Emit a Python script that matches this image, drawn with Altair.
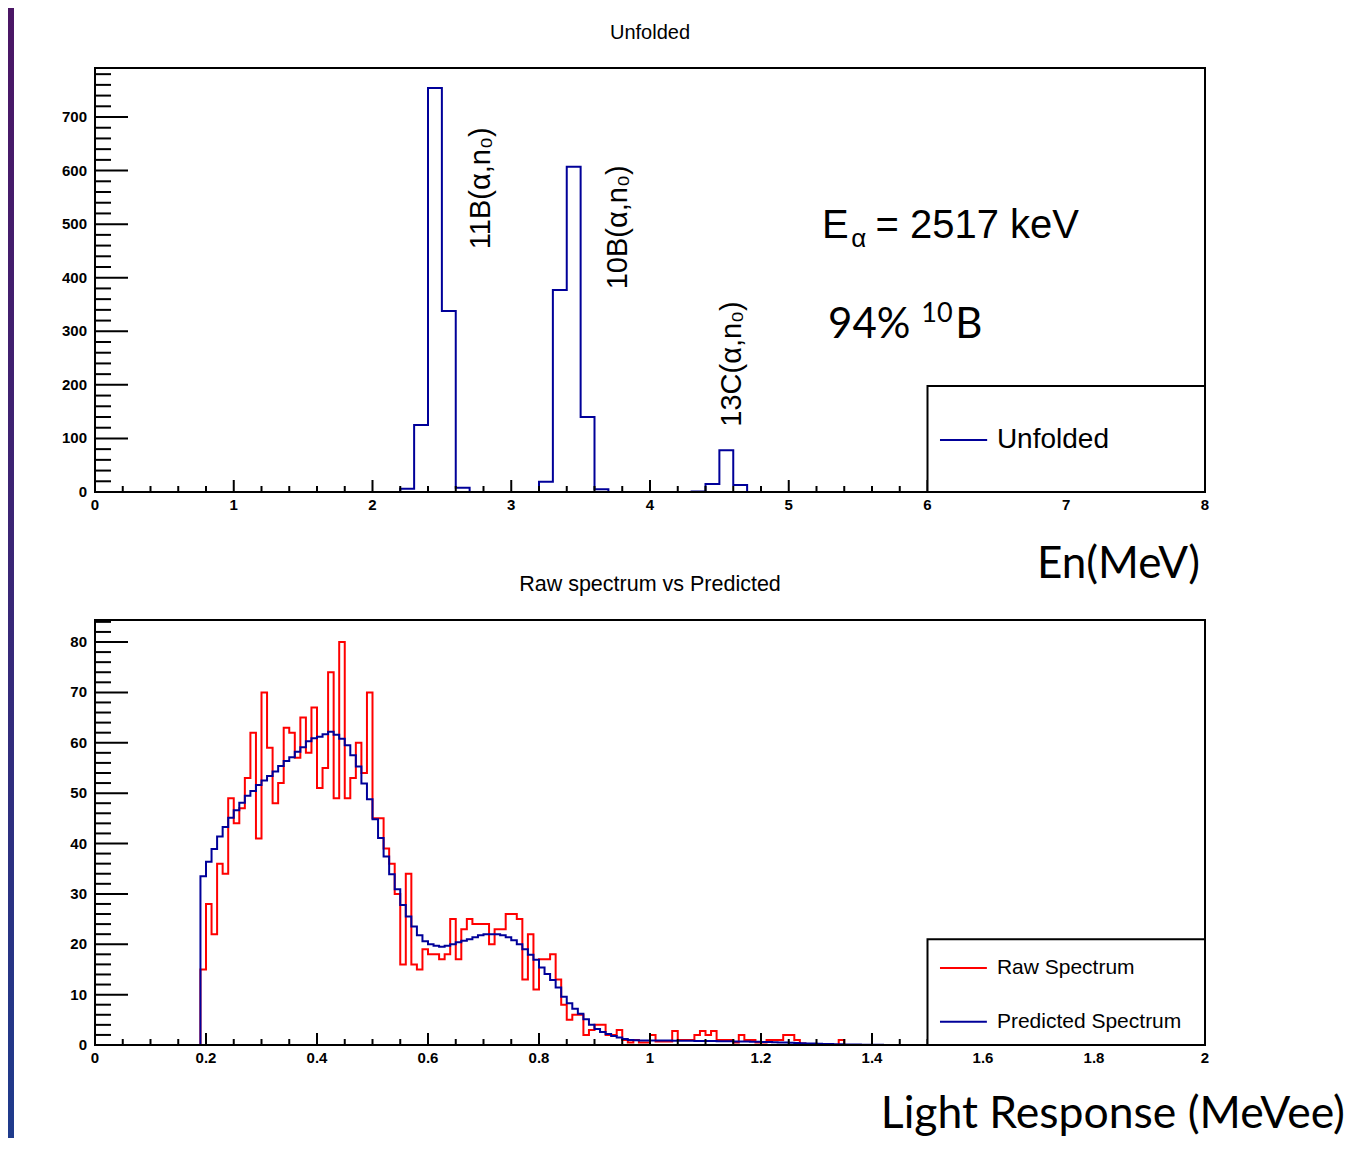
import altair as alt
import pandas as pd

# ---------------- data ----------------
# Top panel: unfolded neutron-energy histogram, 0.1 MeV bins from 0 to 8 MeV
top_n_bins = 80
top_first_nonzero_bin = 22          # bin starting at 2.2 MeV
top_counts_nonzero = [6, 125, 754, 338, 8, 0, 0, 0, 0, 0,
                      19, 377, 607, 140, 5, 0, 0, 0, 0, 0,
                      0, 1, 15, 78, 13]

# Bottom panel: light response histograms, 0.01 MeVee bins from 0 to 2 MeVee
bot_n_bins = 200
bot_first_nonzero_bin = 19          # bin starting at 0.19 MeVee
raw_counts = [15, 28, 22, 36, 34, 49, 44, 47, 53, 62,
              41, 70, 59, 48, 52, 63, 62, 57, 65, 58,
              67, 51, 55, 74, 49, 80, 49, 53, 60, 54,
              70, 45, 45, 39, 36, 30, 16, 34, 16, 15,
              19, 18, 18, 17, 18, 25, 17, 23, 25, 24,
              24, 24, 20, 23, 23, 26, 26, 25, 13, 22,
              11, 17, 17, 18, 13, 8, 5, 6, 6, 2,
              3, 4, 4, 2, 2, 3, 1, 0.5, 1, 0.5,
              0.5, 2, 0.7, 0.7, 0.7, 2.8, 1, 1, 1, 2,
              2.8, 2, 2.8, 1, 1, 1, 0.5, 2, 1, 1,
              0.5, 0.5, 1, 1, 1, 2, 2, 1, 0.3, 0,
              0, 0, 0, 0, 0, 1, 0]
pred_counts = [33.5, 36.4, 38.9, 41.4, 43.3, 45.1, 46.6, 48.1, 49.5, 50.4,
               51.6, 52.5, 53.4, 54.3, 55.4, 56.4, 57.1, 58.2, 59.1, 60.3,
               60.9, 61.2, 61.7, 62.2, 61.6, 60.8, 59.5, 57.5, 55.3, 51.9,
               48.8, 44.8, 41.1, 37.4, 33.9, 30.9, 27.8, 25.5, 23.5, 21.8,
               20.6, 20.0, 19.7, 19.5, 19.7, 20.0, 20.4, 20.7, 21.0, 21.4,
               21.8, 22.0, 22.0, 22.0, 21.8, 21.4, 20.8, 20.0, 19.0, 17.9,
               16.9, 15.4, 14.1, 12.9, 11.4, 9.6, 8.3, 7.2, 6.2, 5.1,
               4.0, 3.2, 2.6, 2.2, 1.8, 1.5, 1.2, 1.0, 0.95, 0.9,
               0.9, 0.9, 0.9, 0.9, 0.9, 0.85, 0.85, 0.85, 0.85, 0.8,
               0.8, 0.8, 0.8, 0.75, 0.75, 0.75, 0.7, 0.7, 0.7, 0.65,
               0.65, 0.6, 0.6, 0.55, 0.5, 0.5, 0.45, 0.4, 0.35, 0.3,
               0.3, 0.25, 0.2, 0.2, 0.15, 0.15, 0.1, 0.1, 0.1, 0.05,
               0.05, 0.05, 0.03, 0.02, 0.01]

# axis tick values
top_x_major = [0, 1, 2, 3, 4, 5, 6, 7, 8]
top_x_minor = [round(i * 0.2, 2) for i in range(41) if i % 5]
top_y_major = [0, 100, 200, 300, 400, 500, 600, 700]
top_y_minor = [i * 20 for i in range(40) if i % 5]
bot_x_major = [round(i * 0.2, 1) for i in range(11)]
bot_x_minor = [round(i * 0.05, 2) for i in range(41) if i % 4]
bot_y_major = [0, 10, 20, 30, 40, 50, 60, 70, 80]
bot_y_minor = [i * 2 for i in range(43) if i % 5]

# annotation texts (data coordinates of the top panel)
peak_labels = ["11B(\u03b1,n\u2080)", "10B(\u03b1,n\u2080)", "13C(\u03b1,n\u2080)"]
peak_label_x = [2.78, 3.77, 4.59]
peak_label_y = [567, 494, 239]

# ---------------- build tables ----------------
top_vals = [0.0] * top_n_bins
for i, v in enumerate(top_counts_nonzero):
    top_vals[top_first_nonzero_bin + i] = v
top_df = pd.DataFrame({"x": [round(i * 0.1, 2) for i in range(top_n_bins + 1)],
                       "y": top_vals + [0.0]})

raw_vals = [0.0] * bot_n_bins
for i, v in enumerate(raw_counts):
    raw_vals[bot_first_nonzero_bin + i] = v
pred_vals = [0.0] * bot_n_bins
for i, v in enumerate(pred_counts):
    pred_vals[bot_first_nonzero_bin + i] = v
edges = [round(i * 0.01, 3) for i in range(bot_n_bins + 1)]
raw_df = pd.DataFrame({"x": edges, "y": raw_vals + [0.0]})
pred_df = pd.DataFrame({"x": edges, "y": pred_vals + [0.0]})

# ---------------- styling ----------------
SANS = "Liberation Sans"
SLIDE = "Lato"
BLUE = "#000099"
RED = "#ff0000"
W, H_TOP, H_BOT = 1110, 424, 425
TICK_FS = 15

xs_top = alt.Scale(domain=[0, 8], nice=False, zero=False)
ys_top = alt.Scale(domain=[0, 791.5], nice=False, zero=False)
xs_bot = alt.Scale(domain=[0, 2], nice=False, zero=False)
ys_bot = alt.Scale(domain=[0, 84.37], nice=False, zero=False)

one = pd.DataFrame({"a": [0]})


def tick_layers(xs, ys, xmaj, xmin, ymaj, ymin, h):
    layers = []
    for vals, ln in ((xmaj, 12), (xmin, 6)):
        layers.append(alt.Chart(pd.DataFrame({"v": vals})).mark_rule(color="black", strokeWidth=2).encode(
            x=alt.X("v:Q", scale=xs, axis=None), y=alt.value(h), y2=alt.value(h - ln)))
    for vals, ln in ((ymaj, 33), (ymin, 16)):
        layers.append(alt.Chart(pd.DataFrame({"v": vals})).mark_rule(color="black", strokeWidth=2).encode(
            y=alt.Y("v:Q", scale=ys, axis=None), x=alt.value(0), x2=alt.value(ln)))
    return layers


def tick_label_layers(xs, ys, xmaj, ymaj, h):
    xl = pd.DataFrame({"v": xmaj, "t": [f"{v:g}" for v in xmaj]})
    yl = pd.DataFrame({"v": ymaj, "t": [f"{v:g}" for v in ymaj]})
    return [
        alt.Chart(xl).mark_text(font=SANS, fontSize=TICK_FS, fontWeight="bold", color="black",
                                align="center", baseline="middle").encode(
            x=alt.X("v:Q", scale=xs, axis=None), y=alt.value(h + 13), text="t:N"),
        alt.Chart(yl).mark_text(font=SANS, fontSize=TICK_FS, fontWeight="bold", color="black",
                                align="right", baseline="middle").encode(
            y=alt.Y("v:Q", scale=ys, axis=None), x=alt.value(-8), text="t:N"),
    ]


def frame(h):
    return alt.Chart(one).mark_rect(filled=False, color="black", strokeWidth=2).encode(
        x=alt.value(0), x2=alt.value(W), y=alt.value(0), y2=alt.value(h))


def text_at(txt, x, y, xs, ys, size, font=SANS, align="left", baseline="alphabetic", angle=0):
    kw = dict(font=font, fontSize=size, align=align, baseline=baseline, color="black")
    if angle:
        kw["angle"] = angle
    return alt.Chart(pd.DataFrame({"x": [x], "y": [y], "t": [txt]})).mark_text(**kw).encode(
        x=alt.X("x:Q", scale=xs, axis=None), y=alt.Y("y:Q", scale=ys, axis=None), text="t:N")


def text_px(txt, x, y, size, font=SANS, align="center", baseline="middle"):
    return alt.Chart(pd.DataFrame({"t": [txt]})).mark_text(
        font=font, fontSize=size, align=align, baseline=baseline, color="black").encode(
        x=alt.value(x), y=alt.value(y), text="t:N")


def legend_entry(x1, x2, xt, y, color, label, xs, ys, size):
    line = alt.Chart(pd.DataFrame({"x": [x1], "x2": [x2], "y": [y]})).mark_rule(
        color=color, strokeWidth=2).encode(
        x=alt.X("x:Q", scale=xs, axis=None), x2="x2:Q", y=alt.Y("y:Q", scale=ys, axis=None))
    return [line, text_at(label, xt, y, xs, ys, size, baseline="middle")]


def legend_box(x1, x2, y1, y2, xs, ys):
    return alt.Chart(pd.DataFrame({"x": [x1], "x2": [x2], "y": [y1], "y2": [y2]})).mark_rect(
        fill="white", stroke="black", strokeWidth=2).encode(
        x=alt.X("x:Q", scale=xs, axis=None), x2="x2:Q",
        y=alt.Y("y:Q", scale=ys, axis=None), y2="y2:Q")


# slide background strip on the left
strip = alt.Chart(one).mark_rect(
    fill=alt.Gradient(gradient="linear",
                      stops=[alt.GradientStop(color="#4b1665", offset=0),
                             alt.GradientStop(color="#3a2676", offset=0.5),
                             alt.GradientStop(color="#1f3b8c", offset=1)],
                      x1=0, x2=0, y1=0, y2=1)).encode(
    x=alt.value(-87), x2=alt.value(-81), y=alt.value(-60), y2=alt.value(1070))

# ---------------- top panel ----------------
top_hist = alt.Chart(top_df).mark_line(interpolate="step-after", color=BLUE, strokeWidth=2).encode(
    x=alt.X("x:Q", scale=xs_top, axis=None),
    y=alt.Y("y:Q", scale=ys_top, axis=None))

top_layers = [strip, top_hist]
top_layers += tick_layers(xs_top, ys_top, top_x_major, top_x_minor, top_y_major, top_y_minor, H_TOP)
top_layers.append(legend_box(6.0, 8.0, 0, 198, xs_top, ys_top))
top_layers += legend_entry(6.09, 6.43, 6.50, 97, BLUE, "Unfolded", xs_top, ys_top, 28)
top_layers.append(frame(H_TOP))
top_layers += tick_label_layers(xs_top, ys_top, top_x_major, top_y_major, H_TOP)
for lab, lx, ly in zip(peak_labels, peak_label_x, peak_label_y):
    top_layers.append(text_at(lab, lx, ly, xs_top, ys_top, 29,
                              align="center", baseline="middle", angle=270))
top_layers.append(text_at("E", 5.24, 474, xs_top, ys_top, 40))
top_layers.append(text_at("\u03b1", 5.45, 457, xs_top, ys_top, 26))
top_layers.append(text_at("= 2517 keV", 5.625, 474, xs_top, ys_top, 40))
top_layers.append(text_at("94%", 5.283, 287, xs_top, ys_top, 42, font=SLIDE))
top_layers.append(text_at("10", 5.955, 318, xs_top, ys_top, 27, font=SLIDE))
top_layers.append(text_at("B", 6.20, 287, xs_top, ys_top, 42, font=SLIDE))
top_layers.append(text_px("Unfolded", 555, -35, 20))
top_layers.append(text_px("En(MeV)", 1105, 510, 44, font=SLIDE, align="right", baseline="alphabetic"))

top = alt.layer(*top_layers).properties(width=W, height=H_TOP)

# ---------------- bottom panel ----------------
raw_hist = alt.Chart(raw_df).mark_line(interpolate="step-after", color=RED, strokeWidth=2).encode(
    x=alt.X("x:Q", scale=xs_bot, axis=None),
    y=alt.Y("y:Q", scale=ys_bot, axis=None))
pred_hist = alt.Chart(pred_df).mark_line(interpolate="step-after", color=BLUE, strokeWidth=2).encode(
    x=alt.X("x:Q", scale=xs_bot, axis=None),
    y=alt.Y("y:Q", scale=ys_bot, axis=None))

bot_layers = [raw_hist, pred_hist]
bot_layers += tick_layers(xs_bot, ys_bot, bot_x_major, bot_x_minor, bot_y_major, bot_y_minor, H_BOT)
bot_layers.append(legend_box(1.5, 2.0, 0, 21.0, xs_bot, ys_bot))
bot_layers += legend_entry(1.5225, 1.607, 1.625, 15.3, RED, "Raw Spectrum", xs_bot, ys_bot, 21)
bot_layers += legend_entry(1.5225, 1.607, 1.625, 4.6, BLUE, "Predicted Spectrum", xs_bot, ys_bot, 21)
bot_layers.append(frame(H_BOT))
bot_layers += tick_label_layers(xs_bot, ys_bot, bot_x_major, bot_y_major, H_BOT)
bot_layers.append(text_px("Raw spectrum vs Predicted", 555, -35, 21.5))
bot_layers.append(text_px("Light Response (MeVee)", 1250, 508, 44.5, font=SLIDE,
                          align="right", baseline="alphabetic"))

bottom = alt.layer(*bot_layers).properties(width=W, height=H_BOT)

chart = alt.vconcat(top, bottom, spacing=128, bounds="flush").properties(
    padding=0, background="white"
).configure_view(strokeWidth=0)

chart.save("out.html", embed_options={"renderer": "svg", "actions": False})
